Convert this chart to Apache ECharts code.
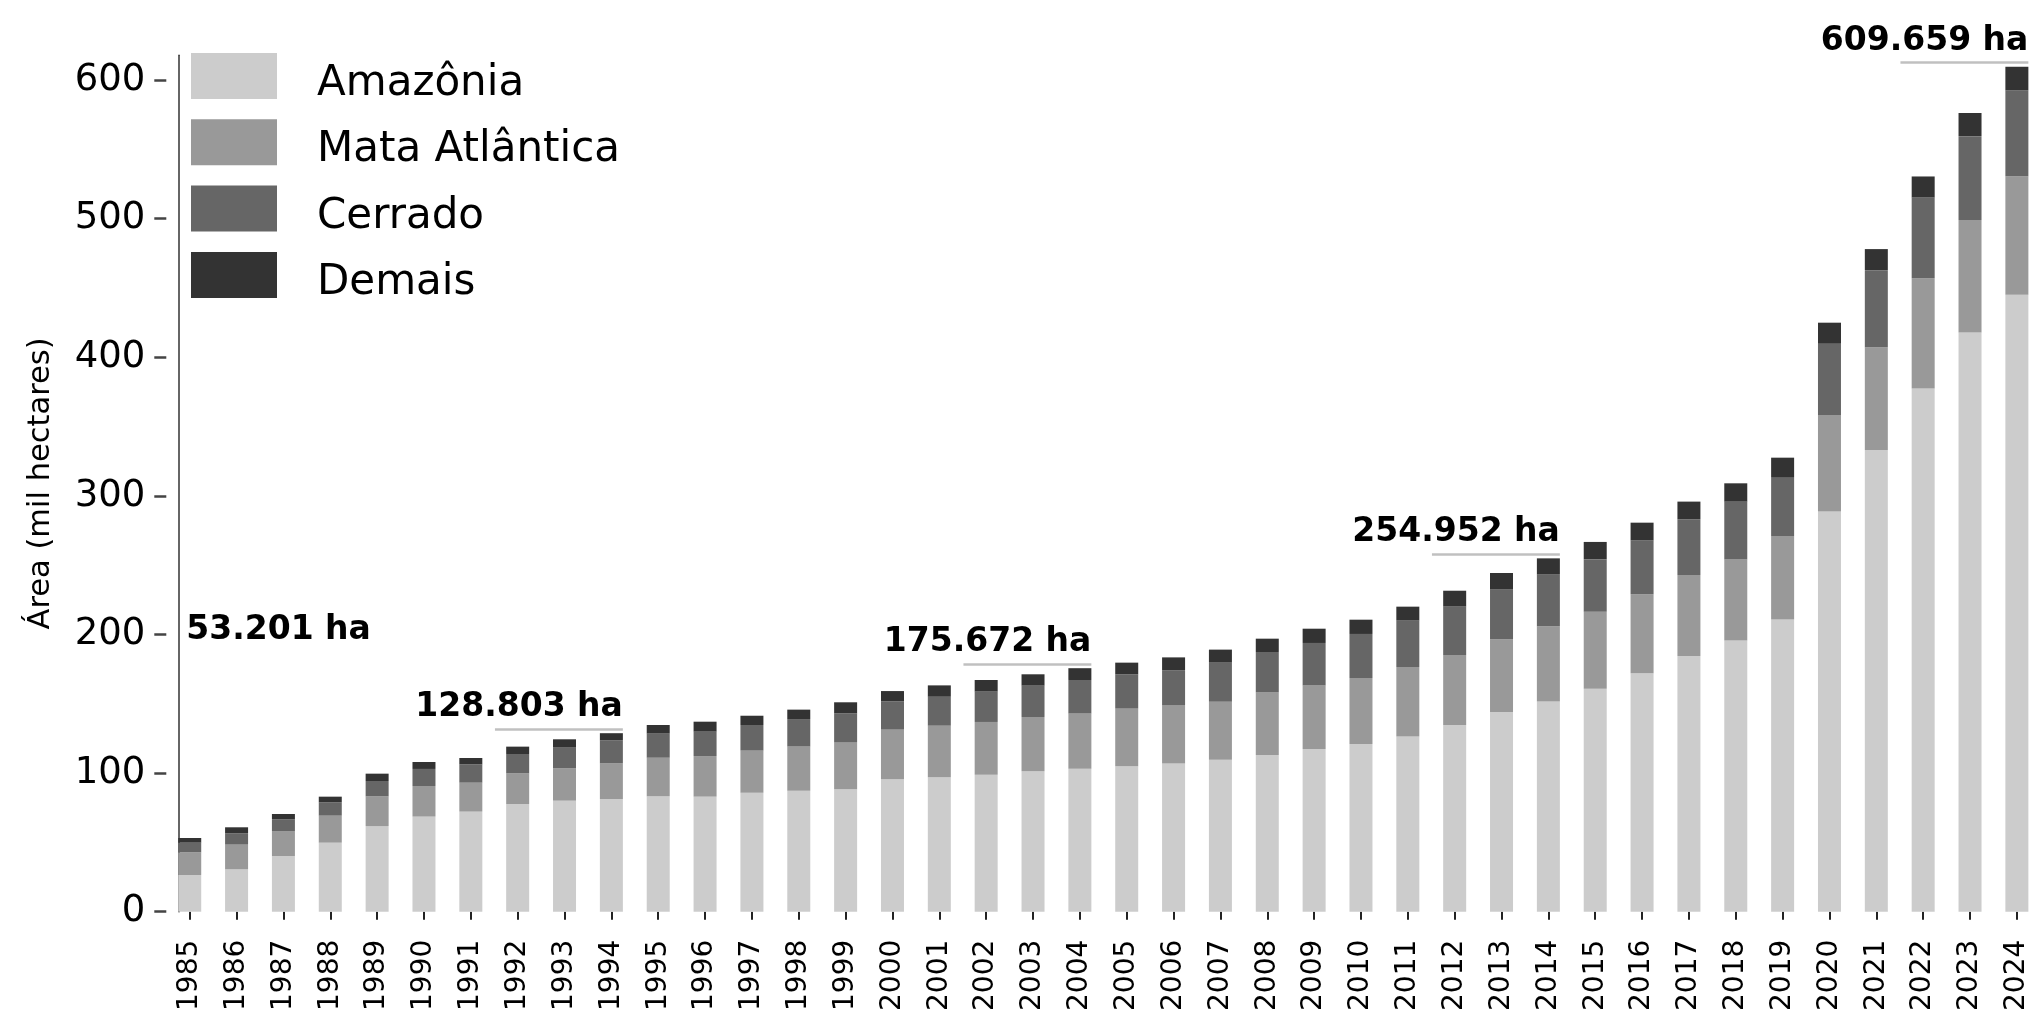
<!DOCTYPE html>
<html>
<head>
<meta charset="utf-8">
<script src="https://cdn.jsdelivr.net/npm/echarts@6/dist/echarts.min.js"></script>
<style>
html,body{margin:0;padding:0;background:#fff;}
#chart{width:2033px;height:1017px;}
</style>
</head>
<body>
<div id="chart"></div>
<script>
// ---- data (mil hectares) ----
const years = ['1985','1986','1987','1988','1989','1990','1991','1992','1993','1994',
  '1995','1996','1997','1998','1999','2000','2001','2002','2003','2004',
  '2005','2006','2007','2008','2009','2010','2011','2012','2013','2014',
  '2015','2016','2017','2018','2019','2020','2021','2022','2023','2024'];
const amazonia = [26.5,30.6,40.2,49.8,61.8,68.6,72.2,77.7,80.1,81.3,
  83.2,83.0,85.9,87.3,88.3,95.5,97.0,98.9,101.3,103.2,
  104.9,107.0,109.7,113.1,117.4,121.0,126.5,134.7,144.1,151.6,
  160.9,172.0,184.5,195.6,210.9,288.8,333.1,377.6,417.9,445.2];
const mataAtlantica = [16.3,17.8,18.0,19.5,21.4,22.1,20.9,22.1,23.3,25.7,
  27.9,29.3,30.3,32.0,34.1,35.9,37.2,38.0,39.2,39.9,
  41.6,41.9,41.8,45.2,45.9,47.6,50.1,50.5,52.4,54.3,
  55.6,57.0,58.4,58.6,60.2,69.6,74.2,79.5,81.2,85.5];
const cerrado = [7.0,8.1,8.4,9.6,11.1,12.3,13.2,14.0,15.4,16.6,
  17.4,17.6,18.5,19.7,20.7,20.4,20.9,21.9,22.6,24.1,
  24.8,25.2,28.2,29.1,30.6,31.8,33.4,34.9,36.1,37.3,
  37.7,39.0,40.3,41.7,42.5,51.4,55.6,58.2,60.5,62.0];
const demais = [3.4,4.4,3.9,4.1,5.3,5.0,4.6,5.3,5.6,5.2,
  6.2,7.2,6.7,6.8,8.0,7.4,8.2,8.4,8.2,8.5,
  8.4,9.4,9.4,9.6,10.3,10.3,10.1,11.5,11.8,11.75,
  12.6,12.7,12.7,13.2,14.0,15.2,15.2,15.2,16.7,16.96];
const seriesNames = ['Amazônia','Mata Atlântica','Cerrado','Demais'];
const yTicks = [0,100,200,300,400,500,600];
// highlighted totals
const annYears = ['1994','2004','2014','2024'];
const annTotals = [128.803,175.672,254.952,609.659];
const firstAnnYear = '1985';
const firstAnnTotal = 53.201;

// ---- styling / layout ----
const colors = ['#cccccc','#999999','#666666','#333333'];
const FONT = 'DejaVu Sans';
const halfBar = 0.245;      // half bar width in category units
const spanCats = 2.73;      // annotation line length in category units
const lineLift = 3;         // annotation line above bar top (axis units)
const firstLabelLevel = 203;

function fmt(v){
  const n = Math.round(v*1000);
  return String(n).replace(/\B(?=(\d{3})+(?!\d))/g,'.') + ' ha';
}

const stacks = [amazonia, mataAtlantica, cerrado, demais];
const barSeries = stacks.map((arr,i)=>({
  name: seriesNames[i], type:'bar', stack:'total', data: arr,
  barWidth: 23, itemStyle:{color: colors[i]},
  xAxisIndex:0, yAxisIndex:0, silent:true
}));

const markLineData = annYears.map((y,k)=>{
  const idx = years.indexOf(y);
  const lv = annTotals[k] + lineLift;
  return [{name: fmt(annTotals[k]), coord:[idx + halfBar - spanCats, lv]},
          {coord:[idx + halfBar, lv]}];
});

const annSeries = {
  type:'scatter', xAxisIndex:1, yAxisIndex:0, data:[], silent:true,
  markLine:{
    silent:true, symbol:['none','none'], animation:false,
    lineStyle:{color:'#c0c0c0', width:2.5, type:'solid'},
    label:{show:true, position:'insideEndTop', distance:[0,5], formatter:'{b}',
      fontFamily:FONT, fontWeight:'bold', fontSize:33, color:'#000'},
    emphasis:{disabled:true},
    data: markLineData
  },
  markPoint:{
    silent:true, animation:false, symbol:'rect', symbolSize:0,
    label:{show:true, position:'right', distance:8, formatter:'{b}',
      fontFamily:FONT, fontWeight:'bold', fontSize:33, color:'#000'},
    data:[{name: fmt(firstAnnTotal), coord:[years.indexOf(firstAnnYear) - halfBar, firstLabelLevel]}]
  }
};

const chart = echarts.init(document.getElementById('chart'), null, {renderer:'canvas'});
chart.setOption({
  animation:false,
  backgroundColor:'#ffffff',
  textStyle:{fontFamily:FONT},
  grid:{left:166.3, top:55.2, width:1874, height:856.5, outerBoundsMode:'none', containLabel:false},
  legend:{
    data: seriesNames, orient:'vertical', left:186, top:42,
    itemWidth:86, itemHeight:46, itemGap:8.3, icon:'rect', selectedMode:false,
    formatter: name => '{t|' + name + '}',
    textStyle:{fontFamily:FONT, fontSize:42, color:'#000', padding:[16,0,0,35],
      backgroundColor:'rgba(255,255,255,0)',
      rich:{t:{fontFamily:FONT, fontSize:42, color:'#000'}}}
  },
  xAxis:[{
    type:'category', data: years, boundaryGap:true,
    axisLine:{show:false},
    axisTick:{show:true, alignWithLabel:true, interval:0, length:8, lineStyle:{color:'#222', width:2}},
    axisLabel:{interval:0, rotate:90, margin:28, fontFamily:FONT, fontSize:28, color:'#000'},
    splitLine:{show:false}
  },{
    type:'value', min:-0.5, max:39.5, show:false
  }],
  yAxis:[{
    type:'value', min:0, max:618, interval:100,
    name:'Área (mil hectares)', nameLocation:'middle', nameRotate:90, nameGap:110,
    nameTextStyle:{fontFamily:FONT, fontSize:30.5, color:'#000'},
    axisLine:{show:false, onZero:false},
    axisTick:{show:true, length:12, customValues:yTicks, lineStyle:{color:'#444', width:2.5}},
    axisLabel:{margin:21, customValues:yTicks, fontFamily:FONT, fontSize:37, color:'#000'},
    splitLine:{show:false}
  },{
    type:'value', min:0, max:618, position:'left', offset:-12.3,
    axisLine:{show:true, onZero:false, lineStyle:{color:'#333', width:1.5}},
    axisTick:{show:false}, axisLabel:{show:false}, splitLine:{show:false}
  }],
  series: barSeries.concat([annSeries])
});
</script>
</body>
</html>
